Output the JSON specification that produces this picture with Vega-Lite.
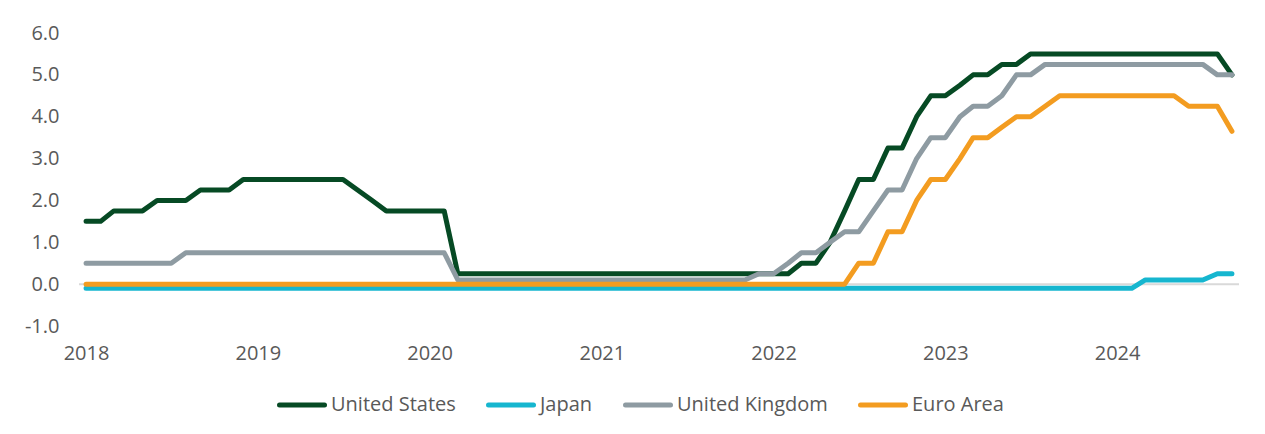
{
  "$schema": "https://vega.github.io/schema/vega-lite/v6.json",
  "width": 1160,
  "height": 293,
  "autosize": {"type": "none"},
  "padding": {"left": 79, "top": 33, "right": 26, "bottom": 108},
  "background": "white",
  "config": {"view": {"stroke": null}, "font": "Open Sans"},
  "datasets": {
    "zero": [{"level": 0}],
    "rates": [
      {"date":"2018-01-01","country":"United States","rate":1.5},
      {"date":"2018-02-01","country":"United States","rate":1.5},
      {"date":"2018-03-01","country":"United States","rate":1.75},
      {"date":"2018-04-01","country":"United States","rate":1.75},
      {"date":"2018-05-01","country":"United States","rate":1.75},
      {"date":"2018-06-01","country":"United States","rate":2.0},
      {"date":"2018-07-01","country":"United States","rate":2.0},
      {"date":"2018-08-01","country":"United States","rate":2.0},
      {"date":"2018-09-01","country":"United States","rate":2.25},
      {"date":"2018-10-01","country":"United States","rate":2.25},
      {"date":"2018-11-01","country":"United States","rate":2.25},
      {"date":"2018-12-01","country":"United States","rate":2.5},
      {"date":"2019-01-01","country":"United States","rate":2.5},
      {"date":"2019-02-01","country":"United States","rate":2.5},
      {"date":"2019-03-01","country":"United States","rate":2.5},
      {"date":"2019-04-01","country":"United States","rate":2.5},
      {"date":"2019-05-01","country":"United States","rate":2.5},
      {"date":"2019-06-01","country":"United States","rate":2.5},
      {"date":"2019-07-01","country":"United States","rate":2.5},
      {"date":"2019-08-01","country":"United States","rate":2.25},
      {"date":"2019-09-01","country":"United States","rate":2.0},
      {"date":"2019-10-01","country":"United States","rate":1.75},
      {"date":"2019-11-01","country":"United States","rate":1.75},
      {"date":"2019-12-01","country":"United States","rate":1.75},
      {"date":"2020-01-01","country":"United States","rate":1.75},
      {"date":"2020-02-01","country":"United States","rate":1.75},
      {"date":"2020-03-01","country":"United States","rate":0.25},
      {"date":"2020-04-01","country":"United States","rate":0.25},
      {"date":"2020-05-01","country":"United States","rate":0.25},
      {"date":"2020-06-01","country":"United States","rate":0.25},
      {"date":"2020-07-01","country":"United States","rate":0.25},
      {"date":"2020-08-01","country":"United States","rate":0.25},
      {"date":"2020-09-01","country":"United States","rate":0.25},
      {"date":"2020-10-01","country":"United States","rate":0.25},
      {"date":"2020-11-01","country":"United States","rate":0.25},
      {"date":"2020-12-01","country":"United States","rate":0.25},
      {"date":"2021-01-01","country":"United States","rate":0.25},
      {"date":"2021-02-01","country":"United States","rate":0.25},
      {"date":"2021-03-01","country":"United States","rate":0.25},
      {"date":"2021-04-01","country":"United States","rate":0.25},
      {"date":"2021-05-01","country":"United States","rate":0.25},
      {"date":"2021-06-01","country":"United States","rate":0.25},
      {"date":"2021-07-01","country":"United States","rate":0.25},
      {"date":"2021-08-01","country":"United States","rate":0.25},
      {"date":"2021-09-01","country":"United States","rate":0.25},
      {"date":"2021-10-01","country":"United States","rate":0.25},
      {"date":"2021-11-01","country":"United States","rate":0.25},
      {"date":"2021-12-01","country":"United States","rate":0.25},
      {"date":"2022-01-01","country":"United States","rate":0.25},
      {"date":"2022-02-01","country":"United States","rate":0.25},
      {"date":"2022-03-01","country":"United States","rate":0.5},
      {"date":"2022-04-01","country":"United States","rate":0.5},
      {"date":"2022-05-01","country":"United States","rate":1.0},
      {"date":"2022-06-01","country":"United States","rate":1.75},
      {"date":"2022-07-01","country":"United States","rate":2.5},
      {"date":"2022-08-01","country":"United States","rate":2.5},
      {"date":"2022-09-01","country":"United States","rate":3.25},
      {"date":"2022-10-01","country":"United States","rate":3.25},
      {"date":"2022-11-01","country":"United States","rate":4.0},
      {"date":"2022-12-01","country":"United States","rate":4.5},
      {"date":"2023-01-01","country":"United States","rate":4.5},
      {"date":"2023-02-01","country":"United States","rate":4.75},
      {"date":"2023-03-01","country":"United States","rate":5.0},
      {"date":"2023-04-01","country":"United States","rate":5.0},
      {"date":"2023-05-01","country":"United States","rate":5.25},
      {"date":"2023-06-01","country":"United States","rate":5.25},
      {"date":"2023-07-01","country":"United States","rate":5.5},
      {"date":"2023-08-01","country":"United States","rate":5.5},
      {"date":"2023-09-01","country":"United States","rate":5.5},
      {"date":"2023-10-01","country":"United States","rate":5.5},
      {"date":"2023-11-01","country":"United States","rate":5.5},
      {"date":"2023-12-01","country":"United States","rate":5.5},
      {"date":"2024-01-01","country":"United States","rate":5.5},
      {"date":"2024-02-01","country":"United States","rate":5.5},
      {"date":"2024-03-01","country":"United States","rate":5.5},
      {"date":"2024-04-01","country":"United States","rate":5.5},
      {"date":"2024-05-01","country":"United States","rate":5.5},
      {"date":"2024-06-01","country":"United States","rate":5.5},
      {"date":"2024-07-01","country":"United States","rate":5.5},
      {"date":"2024-08-01","country":"United States","rate":5.5},
      {"date":"2024-09-01","country":"United States","rate":5.0},

      {"date":"2018-01-01","country":"Japan","rate":-0.1},
      {"date":"2018-02-01","country":"Japan","rate":-0.1},
      {"date":"2018-03-01","country":"Japan","rate":-0.1},
      {"date":"2018-04-01","country":"Japan","rate":-0.1},
      {"date":"2018-05-01","country":"Japan","rate":-0.1},
      {"date":"2018-06-01","country":"Japan","rate":-0.1},
      {"date":"2018-07-01","country":"Japan","rate":-0.1},
      {"date":"2018-08-01","country":"Japan","rate":-0.1},
      {"date":"2018-09-01","country":"Japan","rate":-0.1},
      {"date":"2018-10-01","country":"Japan","rate":-0.1},
      {"date":"2018-11-01","country":"Japan","rate":-0.1},
      {"date":"2018-12-01","country":"Japan","rate":-0.1},
      {"date":"2019-01-01","country":"Japan","rate":-0.1},
      {"date":"2019-02-01","country":"Japan","rate":-0.1},
      {"date":"2019-03-01","country":"Japan","rate":-0.1},
      {"date":"2019-04-01","country":"Japan","rate":-0.1},
      {"date":"2019-05-01","country":"Japan","rate":-0.1},
      {"date":"2019-06-01","country":"Japan","rate":-0.1},
      {"date":"2019-07-01","country":"Japan","rate":-0.1},
      {"date":"2019-08-01","country":"Japan","rate":-0.1},
      {"date":"2019-09-01","country":"Japan","rate":-0.1},
      {"date":"2019-10-01","country":"Japan","rate":-0.1},
      {"date":"2019-11-01","country":"Japan","rate":-0.1},
      {"date":"2019-12-01","country":"Japan","rate":-0.1},
      {"date":"2020-01-01","country":"Japan","rate":-0.1},
      {"date":"2020-02-01","country":"Japan","rate":-0.1},
      {"date":"2020-03-01","country":"Japan","rate":-0.1},
      {"date":"2020-04-01","country":"Japan","rate":-0.1},
      {"date":"2020-05-01","country":"Japan","rate":-0.1},
      {"date":"2020-06-01","country":"Japan","rate":-0.1},
      {"date":"2020-07-01","country":"Japan","rate":-0.1},
      {"date":"2020-08-01","country":"Japan","rate":-0.1},
      {"date":"2020-09-01","country":"Japan","rate":-0.1},
      {"date":"2020-10-01","country":"Japan","rate":-0.1},
      {"date":"2020-11-01","country":"Japan","rate":-0.1},
      {"date":"2020-12-01","country":"Japan","rate":-0.1},
      {"date":"2021-01-01","country":"Japan","rate":-0.1},
      {"date":"2021-02-01","country":"Japan","rate":-0.1},
      {"date":"2021-03-01","country":"Japan","rate":-0.1},
      {"date":"2021-04-01","country":"Japan","rate":-0.1},
      {"date":"2021-05-01","country":"Japan","rate":-0.1},
      {"date":"2021-06-01","country":"Japan","rate":-0.1},
      {"date":"2021-07-01","country":"Japan","rate":-0.1},
      {"date":"2021-08-01","country":"Japan","rate":-0.1},
      {"date":"2021-09-01","country":"Japan","rate":-0.1},
      {"date":"2021-10-01","country":"Japan","rate":-0.1},
      {"date":"2021-11-01","country":"Japan","rate":-0.1},
      {"date":"2021-12-01","country":"Japan","rate":-0.1},
      {"date":"2022-01-01","country":"Japan","rate":-0.1},
      {"date":"2022-02-01","country":"Japan","rate":-0.1},
      {"date":"2022-03-01","country":"Japan","rate":-0.1},
      {"date":"2022-04-01","country":"Japan","rate":-0.1},
      {"date":"2022-05-01","country":"Japan","rate":-0.1},
      {"date":"2022-06-01","country":"Japan","rate":-0.1},
      {"date":"2022-07-01","country":"Japan","rate":-0.1},
      {"date":"2022-08-01","country":"Japan","rate":-0.1},
      {"date":"2022-09-01","country":"Japan","rate":-0.1},
      {"date":"2022-10-01","country":"Japan","rate":-0.1},
      {"date":"2022-11-01","country":"Japan","rate":-0.1},
      {"date":"2022-12-01","country":"Japan","rate":-0.1},
      {"date":"2023-01-01","country":"Japan","rate":-0.1},
      {"date":"2023-02-01","country":"Japan","rate":-0.1},
      {"date":"2023-03-01","country":"Japan","rate":-0.1},
      {"date":"2023-04-01","country":"Japan","rate":-0.1},
      {"date":"2023-05-01","country":"Japan","rate":-0.1},
      {"date":"2023-06-01","country":"Japan","rate":-0.1},
      {"date":"2023-07-01","country":"Japan","rate":-0.1},
      {"date":"2023-08-01","country":"Japan","rate":-0.1},
      {"date":"2023-09-01","country":"Japan","rate":-0.1},
      {"date":"2023-10-01","country":"Japan","rate":-0.1},
      {"date":"2023-11-01","country":"Japan","rate":-0.1},
      {"date":"2023-12-01","country":"Japan","rate":-0.1},
      {"date":"2024-01-01","country":"Japan","rate":-0.1},
      {"date":"2024-02-01","country":"Japan","rate":-0.1},
      {"date":"2024-03-01","country":"Japan","rate":0.1},
      {"date":"2024-04-01","country":"Japan","rate":0.1},
      {"date":"2024-05-01","country":"Japan","rate":0.1},
      {"date":"2024-06-01","country":"Japan","rate":0.1},
      {"date":"2024-07-01","country":"Japan","rate":0.1},
      {"date":"2024-08-01","country":"Japan","rate":0.25},
      {"date":"2024-09-01","country":"Japan","rate":0.25},

      {"date":"2018-01-01","country":"United Kingdom","rate":0.5},
      {"date":"2018-02-01","country":"United Kingdom","rate":0.5},
      {"date":"2018-03-01","country":"United Kingdom","rate":0.5},
      {"date":"2018-04-01","country":"United Kingdom","rate":0.5},
      {"date":"2018-05-01","country":"United Kingdom","rate":0.5},
      {"date":"2018-06-01","country":"United Kingdom","rate":0.5},
      {"date":"2018-07-01","country":"United Kingdom","rate":0.5},
      {"date":"2018-08-01","country":"United Kingdom","rate":0.75},
      {"date":"2018-09-01","country":"United Kingdom","rate":0.75},
      {"date":"2018-10-01","country":"United Kingdom","rate":0.75},
      {"date":"2018-11-01","country":"United Kingdom","rate":0.75},
      {"date":"2018-12-01","country":"United Kingdom","rate":0.75},
      {"date":"2019-01-01","country":"United Kingdom","rate":0.75},
      {"date":"2019-02-01","country":"United Kingdom","rate":0.75},
      {"date":"2019-03-01","country":"United Kingdom","rate":0.75},
      {"date":"2019-04-01","country":"United Kingdom","rate":0.75},
      {"date":"2019-05-01","country":"United Kingdom","rate":0.75},
      {"date":"2019-06-01","country":"United Kingdom","rate":0.75},
      {"date":"2019-07-01","country":"United Kingdom","rate":0.75},
      {"date":"2019-08-01","country":"United Kingdom","rate":0.75},
      {"date":"2019-09-01","country":"United Kingdom","rate":0.75},
      {"date":"2019-10-01","country":"United Kingdom","rate":0.75},
      {"date":"2019-11-01","country":"United Kingdom","rate":0.75},
      {"date":"2019-12-01","country":"United Kingdom","rate":0.75},
      {"date":"2020-01-01","country":"United Kingdom","rate":0.75},
      {"date":"2020-02-01","country":"United Kingdom","rate":0.75},
      {"date":"2020-03-01","country":"United Kingdom","rate":0.1},
      {"date":"2020-04-01","country":"United Kingdom","rate":0.1},
      {"date":"2020-05-01","country":"United Kingdom","rate":0.1},
      {"date":"2020-06-01","country":"United Kingdom","rate":0.1},
      {"date":"2020-07-01","country":"United Kingdom","rate":0.1},
      {"date":"2020-08-01","country":"United Kingdom","rate":0.1},
      {"date":"2020-09-01","country":"United Kingdom","rate":0.1},
      {"date":"2020-10-01","country":"United Kingdom","rate":0.1},
      {"date":"2020-11-01","country":"United Kingdom","rate":0.1},
      {"date":"2020-12-01","country":"United Kingdom","rate":0.1},
      {"date":"2021-01-01","country":"United Kingdom","rate":0.1},
      {"date":"2021-02-01","country":"United Kingdom","rate":0.1},
      {"date":"2021-03-01","country":"United Kingdom","rate":0.1},
      {"date":"2021-04-01","country":"United Kingdom","rate":0.1},
      {"date":"2021-05-01","country":"United Kingdom","rate":0.1},
      {"date":"2021-06-01","country":"United Kingdom","rate":0.1},
      {"date":"2021-07-01","country":"United Kingdom","rate":0.1},
      {"date":"2021-08-01","country":"United Kingdom","rate":0.1},
      {"date":"2021-09-01","country":"United Kingdom","rate":0.1},
      {"date":"2021-10-01","country":"United Kingdom","rate":0.1},
      {"date":"2021-11-01","country":"United Kingdom","rate":0.1},
      {"date":"2021-12-01","country":"United Kingdom","rate":0.25},
      {"date":"2022-01-01","country":"United Kingdom","rate":0.25},
      {"date":"2022-02-01","country":"United Kingdom","rate":0.5},
      {"date":"2022-03-01","country":"United Kingdom","rate":0.75},
      {"date":"2022-04-01","country":"United Kingdom","rate":0.75},
      {"date":"2022-05-01","country":"United Kingdom","rate":1.0},
      {"date":"2022-06-01","country":"United Kingdom","rate":1.25},
      {"date":"2022-07-01","country":"United Kingdom","rate":1.25},
      {"date":"2022-08-01","country":"United Kingdom","rate":1.75},
      {"date":"2022-09-01","country":"United Kingdom","rate":2.25},
      {"date":"2022-10-01","country":"United Kingdom","rate":2.25},
      {"date":"2022-11-01","country":"United Kingdom","rate":3.0},
      {"date":"2022-12-01","country":"United Kingdom","rate":3.5},
      {"date":"2023-01-01","country":"United Kingdom","rate":3.5},
      {"date":"2023-02-01","country":"United Kingdom","rate":4.0},
      {"date":"2023-03-01","country":"United Kingdom","rate":4.25},
      {"date":"2023-04-01","country":"United Kingdom","rate":4.25},
      {"date":"2023-05-01","country":"United Kingdom","rate":4.5},
      {"date":"2023-06-01","country":"United Kingdom","rate":5.0},
      {"date":"2023-07-01","country":"United Kingdom","rate":5.0},
      {"date":"2023-08-01","country":"United Kingdom","rate":5.25},
      {"date":"2023-09-01","country":"United Kingdom","rate":5.25},
      {"date":"2023-10-01","country":"United Kingdom","rate":5.25},
      {"date":"2023-11-01","country":"United Kingdom","rate":5.25},
      {"date":"2023-12-01","country":"United Kingdom","rate":5.25},
      {"date":"2024-01-01","country":"United Kingdom","rate":5.25},
      {"date":"2024-02-01","country":"United Kingdom","rate":5.25},
      {"date":"2024-03-01","country":"United Kingdom","rate":5.25},
      {"date":"2024-04-01","country":"United Kingdom","rate":5.25},
      {"date":"2024-05-01","country":"United Kingdom","rate":5.25},
      {"date":"2024-06-01","country":"United Kingdom","rate":5.25},
      {"date":"2024-07-01","country":"United Kingdom","rate":5.25},
      {"date":"2024-08-01","country":"United Kingdom","rate":5.0},
      {"date":"2024-09-01","country":"United Kingdom","rate":5.0},

      {"date":"2018-01-01","country":"Euro Area","rate":0.0},
      {"date":"2018-02-01","country":"Euro Area","rate":0.0},
      {"date":"2018-03-01","country":"Euro Area","rate":0.0},
      {"date":"2018-04-01","country":"Euro Area","rate":0.0},
      {"date":"2018-05-01","country":"Euro Area","rate":0.0},
      {"date":"2018-06-01","country":"Euro Area","rate":0.0},
      {"date":"2018-07-01","country":"Euro Area","rate":0.0},
      {"date":"2018-08-01","country":"Euro Area","rate":0.0},
      {"date":"2018-09-01","country":"Euro Area","rate":0.0},
      {"date":"2018-10-01","country":"Euro Area","rate":0.0},
      {"date":"2018-11-01","country":"Euro Area","rate":0.0},
      {"date":"2018-12-01","country":"Euro Area","rate":0.0},
      {"date":"2019-01-01","country":"Euro Area","rate":0.0},
      {"date":"2019-02-01","country":"Euro Area","rate":0.0},
      {"date":"2019-03-01","country":"Euro Area","rate":0.0},
      {"date":"2019-04-01","country":"Euro Area","rate":0.0},
      {"date":"2019-05-01","country":"Euro Area","rate":0.0},
      {"date":"2019-06-01","country":"Euro Area","rate":0.0},
      {"date":"2019-07-01","country":"Euro Area","rate":0.0},
      {"date":"2019-08-01","country":"Euro Area","rate":0.0},
      {"date":"2019-09-01","country":"Euro Area","rate":0.0},
      {"date":"2019-10-01","country":"Euro Area","rate":0.0},
      {"date":"2019-11-01","country":"Euro Area","rate":0.0},
      {"date":"2019-12-01","country":"Euro Area","rate":0.0},
      {"date":"2020-01-01","country":"Euro Area","rate":0.0},
      {"date":"2020-02-01","country":"Euro Area","rate":0.0},
      {"date":"2020-03-01","country":"Euro Area","rate":0.0},
      {"date":"2020-04-01","country":"Euro Area","rate":0.0},
      {"date":"2020-05-01","country":"Euro Area","rate":0.0},
      {"date":"2020-06-01","country":"Euro Area","rate":0.0},
      {"date":"2020-07-01","country":"Euro Area","rate":0.0},
      {"date":"2020-08-01","country":"Euro Area","rate":0.0},
      {"date":"2020-09-01","country":"Euro Area","rate":0.0},
      {"date":"2020-10-01","country":"Euro Area","rate":0.0},
      {"date":"2020-11-01","country":"Euro Area","rate":0.0},
      {"date":"2020-12-01","country":"Euro Area","rate":0.0},
      {"date":"2021-01-01","country":"Euro Area","rate":0.0},
      {"date":"2021-02-01","country":"Euro Area","rate":0.0},
      {"date":"2021-03-01","country":"Euro Area","rate":0.0},
      {"date":"2021-04-01","country":"Euro Area","rate":0.0},
      {"date":"2021-05-01","country":"Euro Area","rate":0.0},
      {"date":"2021-06-01","country":"Euro Area","rate":0.0},
      {"date":"2021-07-01","country":"Euro Area","rate":0.0},
      {"date":"2021-08-01","country":"Euro Area","rate":0.0},
      {"date":"2021-09-01","country":"Euro Area","rate":0.0},
      {"date":"2021-10-01","country":"Euro Area","rate":0.0},
      {"date":"2021-11-01","country":"Euro Area","rate":0.0},
      {"date":"2021-12-01","country":"Euro Area","rate":0.0},
      {"date":"2022-01-01","country":"Euro Area","rate":0.0},
      {"date":"2022-02-01","country":"Euro Area","rate":0.0},
      {"date":"2022-03-01","country":"Euro Area","rate":0.0},
      {"date":"2022-04-01","country":"Euro Area","rate":0.0},
      {"date":"2022-05-01","country":"Euro Area","rate":0.0},
      {"date":"2022-06-01","country":"Euro Area","rate":0.0},
      {"date":"2022-07-01","country":"Euro Area","rate":0.5},
      {"date":"2022-08-01","country":"Euro Area","rate":0.5},
      {"date":"2022-09-01","country":"Euro Area","rate":1.25},
      {"date":"2022-10-01","country":"Euro Area","rate":1.25},
      {"date":"2022-11-01","country":"Euro Area","rate":2.0},
      {"date":"2022-12-01","country":"Euro Area","rate":2.5},
      {"date":"2023-01-01","country":"Euro Area","rate":2.5},
      {"date":"2023-02-01","country":"Euro Area","rate":3.0},
      {"date":"2023-03-01","country":"Euro Area","rate":3.5},
      {"date":"2023-04-01","country":"Euro Area","rate":3.5},
      {"date":"2023-05-01","country":"Euro Area","rate":3.75},
      {"date":"2023-06-01","country":"Euro Area","rate":4.0},
      {"date":"2023-07-01","country":"Euro Area","rate":4.0},
      {"date":"2023-08-01","country":"Euro Area","rate":4.25},
      {"date":"2023-09-01","country":"Euro Area","rate":4.5},
      {"date":"2023-10-01","country":"Euro Area","rate":4.5},
      {"date":"2023-11-01","country":"Euro Area","rate":4.5},
      {"date":"2023-12-01","country":"Euro Area","rate":4.5},
      {"date":"2024-01-01","country":"Euro Area","rate":4.5},
      {"date":"2024-02-01","country":"Euro Area","rate":4.5},
      {"date":"2024-03-01","country":"Euro Area","rate":4.5},
      {"date":"2024-04-01","country":"Euro Area","rate":4.5},
      {"date":"2024-05-01","country":"Euro Area","rate":4.5},
      {"date":"2024-06-01","country":"Euro Area","rate":4.25},
      {"date":"2024-07-01","country":"Euro Area","rate":4.25},
      {"date":"2024-08-01","country":"Euro Area","rate":4.25},
      {"date":"2024-09-01","country":"Euro Area","rate":3.65}
    ]
  },
  "layer": [
    {
      "data": {"name": "zero"},
      "mark": {"type": "rule", "color": "#D9D9D9", "strokeWidth": 2},
      "encoding": {
        "y": {"field": "level", "type": "quantitative", "title": null,
              "scale": {"domain": [-1, 6], "nice": false, "zero": false}}
      }
    },
    {
      "data": {"name": "rates"},
      "mark": {"type": "line", "strokeWidth": 5, "strokeCap": "round", "strokeJoin": "round"},
      "encoding": {
        "x": {
          "field": "date", "type": "temporal", "title": null,
          "scale": {"type": "utc", "domain": [
            {"year": 2017, "month": 12, "date": 17, "utc": true},
            {"year": 2024, "month": 9, "date": 16, "utc": true}
          ]},
          "axis": {
            "format": "%Y", "tickCount": {"interval": "year", "step": 1},
            "domain": false, "ticks": false, "grid": false,
            "labelFontSize": 20, "labelColor": "#595959", "labelFont": "Open Sans",
            "labelPadding": 17, "labelAngle": 0
          }
        },
        "y": {
          "field": "rate", "type": "quantitative", "title": null,
          "scale": {"domain": [-1, 6], "nice": false, "zero": false},
          "axis": {
            "values": [-1, 0, 1, 2, 3, 4, 5, 6],
            "labelExpr": "datum.value < 0 ? '-' + format(-datum.value, '.1f') : format(datum.value, '.1f')",
            "domain": false, "ticks": false, "grid": false,
            "labelFontSize": 20, "labelColor": "#595959", "labelFont": "Open Sans",
            "labelPadding": 20
          }
        },
        "color": {
          "field": "country", "type": "nominal",
          "scale": {
            "domain": ["United States", "Japan", "United Kingdom", "Euro Area"],
            "range": ["#064A24", "#16B6CF", "#8E9BA2", "#F39C20"]
          },
          "legend": {
            "orient": "none", "legendX": 198, "legendY": 347,
            "direction": "horizontal", "title": null,
            "symbolType": "stroke", "symbolStrokeWidth": 5, "symbolSize": 2025,
            "labelFontSize": 20, "labelColor": "#595959", "labelFont": "Open Sans",
            "labelOffset": 4, "columnPadding": 22,
            "encode": {"symbols": {"update": {"strokeCap": {"value": "round"}}}}
          }
        }
      }
    }
  ]
}
